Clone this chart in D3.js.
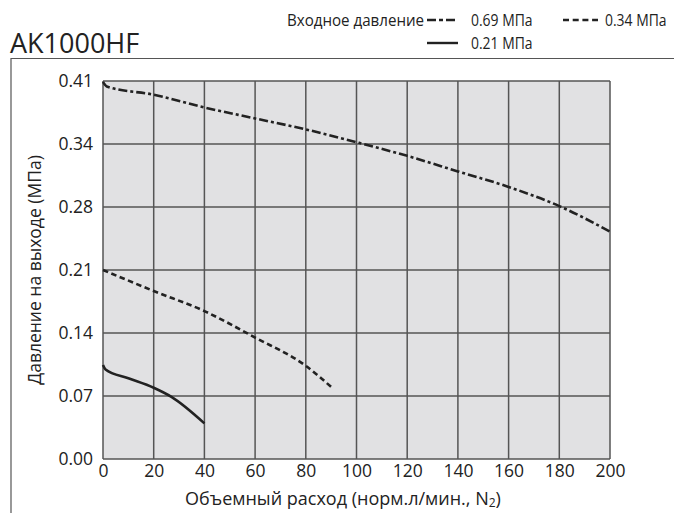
<!DOCTYPE html>
<html>
<head>
<meta charset="UTF-8" />
<script src="https://cdn.jsdelivr.net/npm/d3@7"></script>
<style>
  body { margin: 0; background: #fff; }
  text { font-family: "Open Sans", "Noto Sans", sans-serif; fill: #222; }
</style>
</head>
<body>
<div id="chart"></div>
<script>
// axis ticks (psi steps shown in MPa)
const yTicks = [0, 0.069, 0.138, 0.207, 0.276, 0.345, 0.414];
const yLabels = ["0.00", "0.07", "0.14", "0.21", "0.28", "0.34", "0.41"];
const xTicks = [0, 20, 40, 60, 80, 100, 120, 140, 160, 180, 200];

// curves: [flow, outlet pressure]
const p069 = [[0, 0.413], [1.5, 0.408], [20, 0.399], [40, 0.385], [60, 0.373], [80, 0.361],
              [100, 0.347], [120, 0.332], [140, 0.315], [160, 0.298], [180, 0.277], [200, 0.249]];
const p034 = [[0, 0.207], [20, 0.184], [40, 0.162], [60, 0.133], [80, 0.102], [90, 0.079]];
const p021 = [[0, 0.103], [1, 0.098], [10, 0.0885], [20, 0.078], [27, 0.068], [40, 0.039]];

const series = [
  { name: "0.69 МПа", data: p069, dash: "9,3,3,3", legDash: "9,3,4,3" },
  { name: "0.34 МПа", data: p034, dash: "5.5,3.5", legDash: "6,3.7" },
  { name: "0.21 МПа", data: p021, dash: null, legDash: null }
];

const W = 674, H = 513;
const svg = d3.select("#chart").append("svg").attr("width", W).attr("height", H);

const x = d3.scaleLinear().domain([0, 200]).range([103, 610]);
const y = d3.scaleLinear().domain([0, 0.414]).range([459, 81]);

// outer frame
svg.append("path")
  .attr("d", `M11,${H} V58.5 H${W}`)
  .attr("fill", "none").attr("stroke", "#555").attr("stroke-width", 1.2);

svg.append("text").attr("x", 10).attr("y", 53)
  .attr("font-size", 27).text("AK1000HF");

// plot background
svg.append("rect")
  .attr("x", x(0)).attr("y", y(0.414))
  .attr("width", x(200) - x(0)).attr("height", y(0) - y(0.414))
  .attr("fill", "#e1e1e3");

const grid = svg.append("g").attr("stroke", "#555").attr("stroke-width", 1.5);
grid.selectAll(".gx").data(xTicks).join("line")
  .attr("x1", d => x(d)).attr("x2", d => x(d))
  .attr("y1", y(0.414)).attr("y2", y(0));
grid.selectAll(".gy").data(yTicks).join("line")
  .attr("x1", x(0)).attr("x2", x(200))
  .attr("y1", d => y(d)).attr("y2", d => y(d));

// axes (labels only)
const xAxis = svg.append("g").attr("transform", `translate(0,${y(0)})`)
  .call(d3.axisBottom(x).tickValues(xTicks).tickSize(0).tickPadding(6));
const yAxis = svg.append("g").attr("transform", `translate(${x(0)},0)`)
  .call(d3.axisLeft(y).tickValues(yTicks).tickFormat((d, i) => yLabels[i]).tickSize(0).tickPadding(10));
[xAxis, yAxis].forEach(a => {
  a.select(".domain").remove();
  a.selectAll("text").attr("font-size", 17.5).attr("fill", "#222")
    .style("font-family", '"Open Sans", sans-serif');
});

svg.append("text")
  .attr("transform", `translate(41,${(y(0) + y(0.414)) / 2}) rotate(-90)`)
  .attr("text-anchor", "middle").attr("font-size", 17.5)
  .text("Давление на выходе (МПа)");

const xl = svg.append("text").attr("x", 343).attr("y", 505)
  .attr("text-anchor", "middle").attr("font-size", 18);
xl.append("tspan").text("Объемный расход (норм.л/мин., N");
xl.append("tspan").attr("font-size", 12).attr("dy", 2).text("2");
xl.append("tspan").attr("dy", -2).text(")");

// curves
const line = d3.line().x(d => x(d[0])).y(d => y(d[1])).curve(d3.curveMonotoneX);
svg.append("g").selectAll("path").data(series).join("path")
  .attr("d", d => line(d.data))
  .attr("fill", "none").attr("stroke", "#222").attr("stroke-width", 2.6)
  .attr("stroke-dasharray", d => d.dash);

// legend (condensed face imitated by squeezing horizontally)
const squeeze = 0.82;
const leg = svg.append("g").attr("font-size", 17);
leg.append("text").attr("transform", "translate(287,26) scale(0.89,1)")
  .text("Входное давление");
const legPos = [[427, 20, 31, 471], [563, 20, 35, 605], [427, 43, 31, 471]];
series.forEach((s, i) => {
  const [lx, ly, len, tx] = legPos[i];
  leg.append("line").attr("x1", lx).attr("x2", lx + len).attr("y1", ly).attr("y2", ly)
    .attr("stroke", "#222").attr("stroke-width", 2.4).attr("stroke-dasharray", s.legDash);
  leg.append("text").attr("transform", `translate(${tx},${ly + 6}) scale(${squeeze},1)`)
    .text(s.name);
});
</script>
</body>
</html>
